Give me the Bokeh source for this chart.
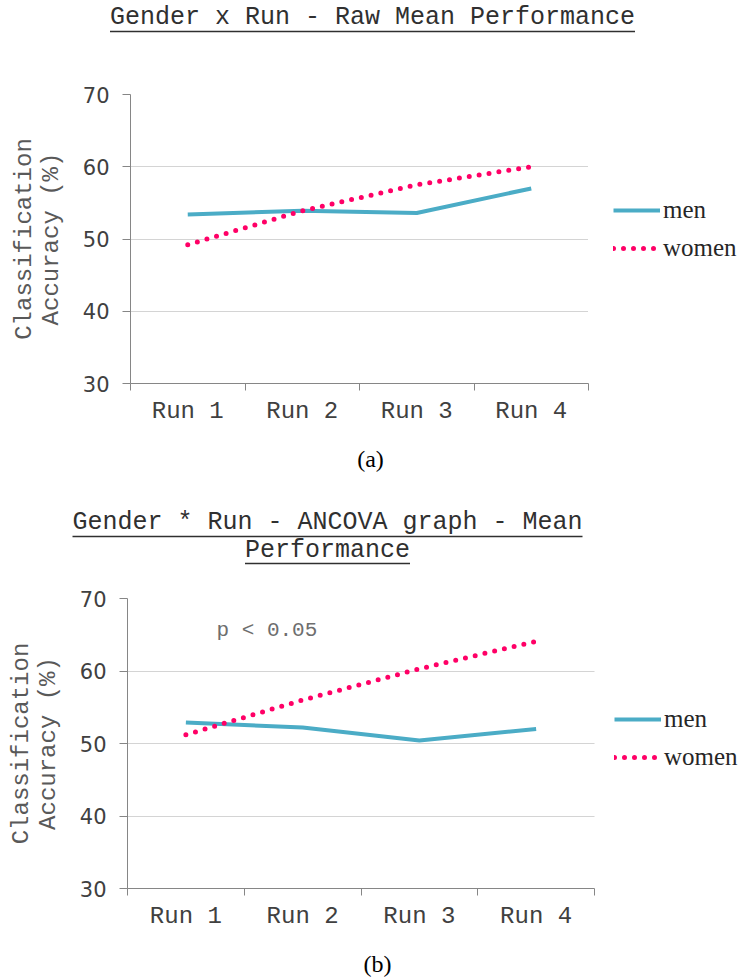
from bokeh.plotting import figure
from bokeh.layouts import column, row
from bokeh.models import Range1d, FixedTicker, Label, Legend, LegendItem
from bokeh.core.properties import value
from bokeh.embed import file_html
from bokeh.resources import INLINE

# ---------------- data ----------------
runs = ["Run 1", "Run 2", "Run 3", "Run 4"]
y_ticks = [30, 40, 50, 60, 70]
series_names = ["men", "women"]
raw_men = [53.4, 53.9, 53.6, 57.0]
raw_women = [49.2, 53.9, 57.5, 60.0]
ancova_men = [52.9, 52.2, 50.4, 52.0]
ancova_women = [51.2, 56.0, 60.3, 64.1]
title_a = ["Gender x Run - Raw Mean Performance"]
title_b = ["Gender * Run - ANCOVA graph - Mean", "Performance"]
y_label = "Classification\nAccuracy (%)"
note_b = "p < 0.05"
captions = ["(a)", "(b)"]

# ---------------- style ----------------
MONO = "Liberation Mono"
SANS = "DejaVu Sans"
SERIF = "Liberation Serif"
MEN_C = "#4BACC6"
WOMEN_C = "#FF0066"
AXIS_C = "#868686"
TEXT_C = "#404040"
PAGE_W = 740
TITLE_FS = 25
NAN = float("nan")


def blank(w, h):
    p = figure(width=w, height=h, x_range=Range1d(0, w), y_range=Range1d(h, 0),
               x_axis_type=None, y_axis_type=None, output_backend="svg",
               toolbar_location=None, min_border=0, title=None)
    p.outline_line_color = None
    p.background_fill_color = "white"
    p.border_fill_color = "white"
    return p


def head(h, lines, cx, cys, uys):
    p = blank(PAGE_W, h)
    n = len(lines)
    p.text(x=[cx] * n, y=cys, text=lines, text_font=value(MONO),
           text_font_size=f"{TITLE_FS}px", text_color="#303030",
           text_align="center", text_baseline="middle")
    halves = [len(t) * 0.6 * TITLE_FS / 2 for t in lines]
    p.segment(x0=[cx - hw for hw in halves], y0=uys, x1=[cx + hw for hw in halves], y1=uys,
              line_color="#303030", line_width=1.5)
    return p


def caption_fig(h, text, cx, cy):
    p = blank(PAGE_W, h)
    p.text(x=[cx], y=[cy], text=[text], text_font=value(SERIF), text_font_size="24px",
           text_color="black", text_align="center", text_baseline="middle")
    return p


def chart(w, h, fl, fr, ft, fb, men, women, note=None, note_px=None):
    nx = len(runs)
    y0, y1 = y_ticks[0], y_ticks[-1]
    fw = w - fl - fr
    fh = h - ft - fb
    p = figure(width=w, height=h, output_backend="svg", toolbar_location=None,
               x_range=Range1d(0, nx), y_range=Range1d(y0, y1),
               min_border_left=fl, min_border_right=fr, min_border_top=ft,
               min_border_bottom=fb, title=None)
    p.outline_line_color = None
    p.background_fill_color = "white"
    p.border_fill_color = "white"

    xs = [i + 0.5 for i in range(nx)]
    p.line(xs, men, line_color=MEN_C, line_width=4, line_join="round")
    p.line(xs, women, line_color=WOMEN_C, line_width=5, line_dash="0 10", line_cap="round")

    p.xaxis.ticker = FixedTicker(ticks=xs, minor_ticks=list(range(nx + 1)))
    p.xaxis.major_label_overrides = {x: r for x, r in zip(xs, runs)}
    p.xaxis.major_tick_out = 0
    p.xaxis.major_tick_in = 0
    p.xaxis.minor_tick_out = 7
    p.xaxis.minor_tick_in = 0
    p.xaxis.minor_tick_line_color = AXIS_C
    p.xaxis.axis_line_color = AXIS_C
    p.xaxis.major_label_text_font = MONO
    p.xaxis.major_label_text_font_size = "24px"
    p.xaxis.major_label_text_color = TEXT_C
    p.xaxis.major_label_standoff = 7

    p.yaxis.ticker = FixedTicker(ticks=y_ticks)
    p.yaxis.major_tick_out = 8
    p.yaxis.major_tick_in = 0
    p.yaxis.minor_tick_line_color = None
    p.yaxis.major_tick_line_color = AXIS_C
    p.yaxis.axis_line_color = AXIS_C
    p.yaxis.major_label_text_font = SANS
    p.yaxis.major_label_text_font_size = "21px"
    p.yaxis.major_label_text_color = TEXT_C
    p.yaxis.major_label_standoff = 13
    p.yaxis.axis_label = y_label
    p.yaxis.axis_label_text_font = MONO
    p.yaxis.axis_label_text_font_size = "24px"
    p.yaxis.axis_label_text_font_style = "normal"
    p.yaxis.axis_label_text_color = "#595959"
    p.yaxis.axis_label_text_line_height = 1.0
    p.yaxis.axis_label_standoff = 15

    p.xgrid.visible = False
    p.ygrid.ticker = FixedTicker(ticks=y_ticks)
    p.ygrid.grid_line_color = "#a8a8a8"
    p.ygrid.grid_line_dash = "1 1"
    p.ygrid.grid_line_width = 1

    if note is not None:
        nxd = note_px[0] / fw * nx
        nyd = y1 - note_px[1] / fh * (y1 - y0)
        p.add_layout(Label(x=nxd, y=nyd, text=note, text_font=MONO,
                           text_font_size="21px", text_color="#6e6e6e",
                           text_align="left", text_baseline="middle"))
    return p


def legend_fig(w, h, gx, gy):
    p = blank(w, h)
    # legend-only renderers (no visible data)
    r1 = p.line(x=[NAN], y=[NAN], line_color=MEN_C, line_width=4)
    r2 = p.line(x=[NAN], y=[NAN], line_color=WOMEN_C, line_width=5,
                line_dash="0 10", line_cap="round")
    item_h = 28
    lg = Legend(items=[LegendItem(label=series_names[0], renderers=[r1]),
                       LegendItem(label=series_names[1], renderers=[r2])],
                location=(gx, gy),
                orientation="vertical", padding=0, margin=0, spacing=10,
                glyph_width=47, glyph_height=item_h, label_height=item_h,
                label_standoff=3, label_text_font=SERIF,
                label_text_font_size="25px", label_text_color="#262626",
                border_line_color=None, background_fill_alpha=0)
    p.add_layout(lg)
    return p


CHART_W = 600
LEG_W = PAGE_W - CHART_W

# chart (a): page y 0..480
head_a = head(60, title_a, 372, [17], [31])
chart_a = chart(CHART_W, 380, 130, 12, 34, 57, raw_men, raw_women)
leg_a = legend_fig(LEG_W, 380, 13, 121)
cap_a = caption_fig(40, captions[0], 370, 18)

# chart (b): page y 480..978
head_b = head(100, title_b, 327, [42, 70], [56, 83])
chart_b = chart(CHART_W, 360, 127, 6, 18, 52, ancova_men, ancova_women,
                note=note_b, note_px=(89, 32))
leg_b = legend_fig(LEG_W, 360, 14, 117)
cap_b = caption_fig(38, captions[1], 377, 23)

p = column(head_a, row(chart_a, leg_a), cap_a,
           head_b, row(chart_b, leg_b), cap_b, spacing=0)
open("out.html", "w").write(file_html(p, INLINE))
